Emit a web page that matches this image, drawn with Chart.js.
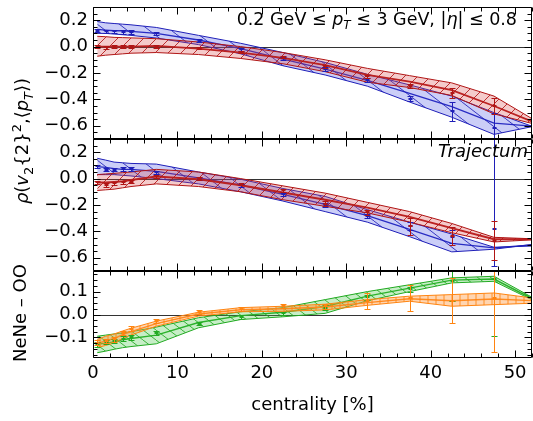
<!DOCTYPE html>
<html>
<head>
  <meta charset="utf-8">
  <title>rho(v2{2}^2, pT) vs centrality</title>
  <script src="https://cdn.jsdelivr.net/npm/chart.js"></script>
  <style>
    html, body { margin: 0; padding: 0; background: #fff; }
    #wrap { position: relative; width: 533px; height: 421px; }
    #wrap canvas { position: absolute; left: 0; top: 0; }
  </style>
</head>
<body>
<div id="wrap">
  <canvas id="cTop" width="533" height="421"></canvas>
  <canvas id="cMid" width="533" height="421"></canvas>
  <canvas id="cLow" width="533" height="421"></canvas>
</div>
<script>
  // ---- data ----
  // band nodes (last node lies just past the axis end and gets clipped)
  const cent = [0.5, 1.5, 2.5, 3.5, 4.5, 7.5, 12.5, 17.5, 22.5, 27.5, 32.5, 37.5, 42.5, 47.5, 52.5];
  // centres of the bins that carry error bars
  const centPts = [0.5, 1.5, 2.5, 3.5, 4.5, 7.5, 12.5, 17.5, 22.5, 27.5, 32.5, 37.5, 42.5, 47.5];

  const xTicks = [0, 10, 20, 30, 40, 50];
  const rhoTicks = [-0.6, -0.4, -0.2, 0, 0.2];
  const diffTicks = [-0.1, 0, 0.1];

  // upper panel
  const topBlueHi  = [0.19, 0.18, 0.175, 0.17, 0.165, 0.145, 0.085, 0.025, -0.045, -0.12, -0.21, -0.29, -0.375, -0.50, -0.615];
  const topBlueLo  = [0.10, 0.10, 0.095, 0.09, 0.085, 0.065, 0.015, -0.055, -0.145, -0.215, -0.30, -0.42, -0.535, -0.665, -0.60];
  const topBlueMid = [0.13, 0.125, 0.12, 0.12, 0.115, 0.10, 0.05, -0.015, -0.095, -0.17, -0.255, -0.355, -0.455, -0.58, -0.605];
  const topRedHi   = [0.078, 0.075, 0.07, 0.068, 0.066, 0.06, 0.035, 0.0, -0.045, -0.10, -0.165, -0.22, -0.275, -0.375, -0.565];
  const topRedLo   = [-0.073, -0.065, -0.06, -0.055, -0.05, -0.045, -0.06, -0.09, -0.13, -0.19, -0.27, -0.31, -0.37, -0.51, -0.59];
  const topRedMid  = [0.0, 0.0, 0.0, 0.0, 0.0, 0.005, -0.015, -0.045, -0.085, -0.14, -0.215, -0.265, -0.33, -0.45, -0.58];

  const topBluePts = [0.12, 0.115, 0.115, 0.11, 0.11, 0.10, 0.045, -0.02, -0.09, -0.17, -0.255, -0.395, -0.49, -0.62];
  const topBlueDn  = [0.012, 0.012, 0.012, 0.012, 0.012, 0.01, 0.01, 0.01, 0.012, 0.012, 0.015, 0.02, 0.073, 0.12];
  const topBlueUp  = [0.012, 0.012, 0.012, 0.012, 0.012, 0.01, 0.01, 0.01, 0.012, 0.012, 0.015, 0.02, 0.073, 0.12];
  const topRedPts  = [0.0, -0.005, 0.0, 0.0, 0.0, 0.0, -0.01, -0.04, -0.08, -0.15, -0.225, -0.30, -0.35, -0.45];
  const topRedDn   = [0.012, 0.012, 0.012, 0.012, 0.012, 0.01, 0.01, 0.01, 0.01, 0.012, 0.012, 0.015, 0.038, 0.06];
  const topRedUp   = [0.012, 0.012, 0.012, 0.012, 0.012, 0.01, 0.01, 0.01, 0.01, 0.012, 0.012, 0.015, 0.038, 0.06];

  // middle panel (Trajectum)
  const midBlueHi  = [0.154, 0.14, 0.125, 0.12, 0.115, 0.11, 0.05, -0.005, -0.075, -0.135, -0.235, -0.33, -0.42, -0.52, -0.51];
  const midBlueLo  = [0.03, 0.03, 0.03, 0.025, 0.02, 0.0, -0.04, -0.10, -0.17, -0.25, -0.33, -0.44, -0.555, -0.535, -0.495];
  const midBlueMid = [0.09, 0.085, 0.075, 0.07, 0.07, 0.055, 0.005, -0.05, -0.12, -0.195, -0.28, -0.385, -0.49, -0.525, -0.50];
  const midRedHi   = [0.03, 0.035, 0.04, 0.045, 0.05, 0.07, 0.05, 0.0, -0.055, -0.11, -0.18, -0.25, -0.34, -0.445, -0.457];
  const midRedLo   = [-0.09, -0.085, -0.08, -0.07, -0.06, -0.04, -0.06, -0.10, -0.16, -0.21, -0.26, -0.33, -0.41, -0.48, -0.462];
  const midRedMid  = [-0.03, -0.03, -0.025, -0.02, -0.01, 0.015, -0.005, -0.05, -0.105, -0.16, -0.22, -0.29, -0.375, -0.46, -0.46];

  const midBluePts = [0.093, 0.066, 0.066, 0.073, 0.073, 0.048, 0.0, -0.05, -0.12, -0.20, -0.28, -0.36, -0.44, -0.38];
  const midBlueDn  = [0.012, 0.012, 0.012, 0.012, 0.012, 0.01, 0.01, 0.01, 0.012, 0.012, 0.015, 0.03, 0.05, 0.28];
  const midBlueUp  = [0.012, 0.012, 0.012, 0.012, 0.012, 0.01, 0.01, 0.01, 0.012, 0.012, 0.015, 0.03, 0.05, 0.75];
  const midRedPts  = [-0.028, -0.048, -0.035, -0.028, -0.023, 0.018, 0.0, -0.04, -0.09, -0.19, -0.255, -0.36, -0.435, -0.47];
  const midRedDn   = [0.012, 0.012, 0.012, 0.012, 0.012, 0.01, 0.01, 0.01, 0.012, 0.018, 0.02, 0.065, 0.067, 0.147];
  const midRedUp   = [0.012, 0.012, 0.012, 0.012, 0.012, 0.01, 0.01, 0.01, 0.012, 0.018, 0.02, 0.065, 0.067, 0.147];

  // lower panel: NeNe - OO
  const lowOrangeHi  = [-0.109, -0.095, -0.085, -0.072, -0.06, -0.029, 0.01, 0.03, 0.036, 0.045, 0.065, 0.08, 0.087, 0.094, 0.07];
  const lowOrangeLo  = [-0.145, -0.135, -0.125, -0.105, -0.09, -0.051, -0.007, 0.012, 0.014, 0.02, 0.04, 0.058, 0.036, 0.043, 0.05];
  const lowOrangeMid = [-0.127, -0.115, -0.105, -0.088, -0.075, -0.04, 0.002, 0.021, 0.025, 0.033, 0.052, 0.069, 0.06, 0.068, 0.06];
  const lowGreenHi   = [-0.095, -0.09, -0.085, -0.08, -0.075, -0.055, -0.014, 0.012, 0.03, 0.065, 0.10, 0.13, 0.16, 0.167, 0.065];
  const lowGreenLo   = [-0.167, -0.16, -0.152, -0.145, -0.14, -0.128, -0.058, -0.022, -0.01, 0.005, 0.06, 0.10, 0.138, 0.145, 0.055];
  const lowGreenMid  = [-0.13, -0.125, -0.12, -0.11, -0.105, -0.09, -0.035, -0.005, 0.01, 0.035, 0.08, 0.115, 0.15, 0.155, 0.06];

  const lowOrangePts = [-0.123, -0.116, -0.109, -0.08, -0.062, -0.029, 0.01, 0.025, 0.036, 0.036, 0.058, 0.072, 0.058, 0.072];
  const lowOrangeDn  = [0.01, 0.01, 0.01, 0.01, 0.01, 0.008, 0.008, 0.008, 0.008, 0.01, 0.036, 0.058, 0.094, 0.237];
  const lowOrangeUp  = [0.01, 0.01, 0.01, 0.01, 0.01, 0.008, 0.008, 0.008, 0.008, 0.01, 0.036, 0.058, 0.102, 0.124];
  const lowGreenPts  = [-0.13, -0.12, -0.115, -0.105, -0.10, -0.08, -0.04, -0.01, 0.005, 0.03, 0.075, 0.11, 0.145, 0.155];
  const lowGreenDn   = [0.01, 0.01, 0.01, 0.01, 0.01, 0.008, 0.008, 0.008, 0.008, 0.01, 0.01, 0.012, 0.087, 0.249];
  const lowGreenUp   = [0.01, 0.01, 0.01, 0.01, 0.01, 0.008, 0.008, 0.008, 0.008, 0.01, 0.01, 0.012, 0.045, 0.2];

  // ---- styles ----
  const FAMILY = '"DejaVu Sans", sans-serif';
  const FS = 18;
  const BLUE = '#1f1fb8', RED = '#b01515', GREEN = '#22aa22', ORANGE = '#ff8410';

  // semi-transparent fill with a sparse line hatch on top
  function hatch(fill, stroke, w, h, mode) {
    const c = document.createElement('canvas');
    c.width = w; c.height = h;
    const g = c.getContext('2d');
    g.fillStyle = fill;
    g.fillRect(0, 0, w, h);
    g.strokeStyle = stroke;
    g.lineWidth = 1;
    g.beginPath();
    if (mode === '/') { g.moveTo(0, h); g.lineTo(w, 0); }
    else if (mode === '|') { g.moveTo(w / 2, 0); g.lineTo(w / 2, h); }
    else { g.moveTo(0, 0); g.lineTo(w, h); }
    g.stroke();
    return g.createPattern(c, 'repeat');
  }

  const blueFill = hatch('rgba(70,80,225,0.28)', 'rgba(31,31,184,0.85)', 22, 17, '\\');
  const redFill = hatch('rgba(215,70,70,0.28)', 'rgba(176,21,21,0.85)', 13, 13, '/');
  const greenFill = hatch('rgba(70,200,70,0.30)', 'rgba(34,170,34,0.85)', 13, 10, '\\');
  const orangeFill = hatch('rgba(255,150,60,0.40)', 'rgba(255,132,16,0.85)', 8, 8, '|');

  function series(arr) {
    return cent.map((x, i) => ({ x: x, y: arr[i] }));
  }

  // lower edge, upper edge filled down to it, central line
  function band(hi, lo, mid, color, fill, midWidth) {
    const base = { pointRadius: 0, tension: 0, borderColor: color };
    return [
      Object.assign({ data: series(lo), borderWidth: 1, fill: false }, base),
      Object.assign({ data: series(hi), borderWidth: 1, fill: '-1', backgroundColor: fill }, base),
      Object.assign({ data: series(mid), borderWidth: midWidth, fill: false }, base)
    ];
  }

  function fmt(v) {
    if (Math.abs(v) < 1e-9) return '0.0';
    return (v < 0 ? '\u2212' : '') + Math.abs(v).toFixed(1);
  }

  // text made of runs: '' plain, 'i' italic, 'sub'/'sup' small, 'isub' italic small
  function runFont(style, fs) {
    const small = style.indexOf('sub') >= 0 || style.indexOf('sup') >= 0;
    const size = small ? Math.round(fs * 0.7) : fs;
    return (style.charAt(0) === 'i' ? 'italic ' : '') + size + 'px ' + FAMILY;
  }
  function drawRich(ctx, parts, x, y, align, fs) {
    fs = fs || FS;
    ctx.save();
    ctx.textBaseline = 'alphabetic';
    ctx.textAlign = 'left';
    ctx.fillStyle = '#000';
    const widths = parts.map(p => { ctx.font = runFont(p[1], fs); return ctx.measureText(p[0]).width; });
    const total = widths.reduce((a, b) => a + b, 0);
    let cx = align === 'right' ? x - total : (align === 'center' ? x - total / 2 : x);
    parts.forEach((p, i) => {
      ctx.font = runFont(p[1], fs);
      let dy = 0;
      if (p[1].indexOf('sub') >= 0) dy = fs * 0.25;
      if (p[1].indexOf('sup') >= 0) dy = -fs * 0.4;
      ctx.fillText(p[0], cx, y + dy);
      cx += widths[i];
    });
    ctx.restore();
  }

  // frame with inward ticks on all four sides and the zero line
  function framePlugin(yTicks, minor) {
    return {
      id: 'frame',
      beforeDatasetsDraw(chart) {
        const { ctx, chartArea: a, scales: { y } } = chart;
        const y0 = Math.round(y.getPixelForValue(0)) + 0.5;
        ctx.save();
        ctx.strokeStyle = '#333';
        ctx.lineWidth = 1.2;
        ctx.beginPath();
        ctx.moveTo(a.left, y0);
        ctx.lineTo(a.right, y0);
        ctx.stroke();
        ctx.restore();
      },
      afterDraw(chart) {
        const { ctx, chartArea: a, scales: { x, y } } = chart;
        const L = Math.round(a.left) + 0.5, R = Math.round(a.right) - 0.5;
        const T = Math.round(a.top) + 0.5, B = Math.round(a.bottom) - 0.5;
        ctx.save();
        ctx.strokeStyle = '#000';
        ctx.lineWidth = 1;
        ctx.beginPath();
        ctx.rect(L, T, R - L, B - T);
        for (let v = 0; v <= x.max + 1e-9; v += 2) {
          const px = Math.round(x.getPixelForValue(v)) + 0.5;
          const len = xTicks.indexOf(v) >= 0 ? 7 : 4;
          ctx.moveTo(px, B); ctx.lineTo(px, B - len);
          ctx.moveTo(px, T); ctx.lineTo(px, T + len);
        }
        const n0 = Math.ceil(y.min / minor - 1e-9), n1 = Math.floor(y.max / minor + 1e-9);
        for (let k = n0; k <= n1; k++) {
          const v = k * minor;
          const py = Math.round(y.getPixelForValue(v)) + 0.5;
          const major = yTicks.some(t => Math.abs(t - v) < 1e-6);
          const len = major ? 7 : 4;
          ctx.moveTo(L, py); ctx.lineTo(L + len, py);
          ctx.moveTo(R, py); ctx.lineTo(R - len, py);
        }
        ctx.stroke();
        ctx.restore();
      }
    };
  }

  // points with vertical error bars, clipped to the panel
  function errorPlugin(list) {
    return {
      id: 'errorBars',
      afterDatasetsDraw(chart) {
        const { ctx, chartArea: a, scales: { x, y } } = chart;
        ctx.save();
        ctx.beginPath();
        ctx.rect(a.left, a.top, a.width, a.height);
        ctx.clip();
        ctx.lineWidth = 1;
        list.forEach(s => {
          ctx.strokeStyle = s.color;
          ctx.fillStyle = s.color;
          centPts.forEach((c, i) => {
            const px = Math.round(x.getPixelForValue(c)) + 0.5;
            const py = Math.round(y.getPixelForValue(s.val[i]));
            const y1 = Math.round(y.getPixelForValue(s.val[i] - s.dn[i])) + 0.5;
            const y2 = Math.round(y.getPixelForValue(s.val[i] + s.up[i])) + 0.5;
            ctx.beginPath();
            ctx.moveTo(px, y1); ctx.lineTo(px, y2);
            ctx.moveTo(px - 3, y1); ctx.lineTo(px + 3, y1);
            ctx.moveTo(px - 3, y2); ctx.lineTo(px + 3, y2);
            ctx.stroke();
            ctx.fillRect(px - 2, py - 1, 4, 2);
          });
        });
        ctx.restore();
      }
    };
  }

  function textPlugin(draw) {
    return { id: 'notes', afterDraw(chart) { draw(chart.ctx); } };
  }

  // one panel = one chart on a full-size transparent canvas
  function panel(id, top, bottom, yMin, yMax, yTicks, minor, datasets, errs, notes, showX) {
    const font = { family: FAMILY, size: FS };
    return new Chart(document.getElementById(id), {
      type: 'line',
      data: { datasets: datasets },
      options: {
        responsive: false,
        animation: false,
        events: [],
        layout: { padding: { left: 0, right: 1, top: top, bottom: showX ? 0 : 421 - bottom } },
        scales: {
          x: {
            type: 'linear', min: 0, max: 52, display: showX,
            afterBuildTicks: s => { s.ticks = xTicks.map(v => ({ value: v })); },
            grid: { display: false, drawTicks: false },
            border: { display: false },
            ticks: { font: font, color: '#000', padding: 5, maxRotation: 0, autoSkip: false },
            title: { display: true, text: 'centrality [%]', font: font, color: '#000', padding: { top: 0, bottom: 5 } },
            afterFit: s => { if (showX) s.height = 421 - bottom; }
          },
          y: {
            type: 'linear', min: yMin, max: yMax,
            afterBuildTicks: s => { s.ticks = yTicks.map(v => ({ value: v })); },
            grid: { display: false, drawTicks: false },
            border: { display: false },
            ticks: { font: font, color: '#000', padding: 5, callback: fmt },
            afterFit: s => { s.width = 93; s.paddingTop = 0; s.paddingBottom = 0; }
          }
        },
        plugins: { legend: { display: false }, tooltip: { enabled: false } }
      },
      plugins: [framePlugin(yTicks, minor), errorPlugin(errs), textPlugin(notes)]
    });
  }

  // ---- panels ----
  panel('cTop', 7, 139, -0.7, 0.3, rhoTicks, 0.05,
    [].concat(
      band(topRedHi, topRedLo, topRedMid, RED, redFill, 1.8),
      band(topBlueHi, topBlueLo, topBlueMid, BLUE, blueFill, 1.3)
    ),
    [
      { color: BLUE, val: topBluePts, dn: topBlueDn, up: topBlueUp },
      { color: RED, val: topRedPts, dn: topRedDn, up: topRedUp }
    ],
    ctx => drawRich(ctx, [['0.2 GeV \u2264 ', ''], ['p', 'i'], ['T', 'isub'], [' \u2264 3 GeV, |', ''], ['\u03b7', 'i'], ['| \u2264 0.8', '']], 517, 25, 'right', 17.5),
    false);

  panel('cMid', 139, 271, -0.7, 0.3, rhoTicks, 0.05,
    [].concat(
      band(midRedHi, midRedLo, midRedMid, RED, redFill, 2),
      band(midBlueHi, midBlueLo, midBlueMid, BLUE, blueFill, 1.3)
    ),
    [
      { color: BLUE, val: midBluePts, dn: midBlueDn, up: midBlueUp },
      { color: RED, val: midRedPts, dn: midRedDn, up: midRedUp }
    ],
    ctx => {
      drawRich(ctx, [['Trajectum', 'i']], 528, 157, 'right');
      ctx.save();
      ctx.translate(28, 141);
      ctx.rotate(-Math.PI / 2);
      drawRich(ctx, [['\u03c1', 'i'], ['(', ''], ['v', 'i'], ['2', 'sub'], ['{2}', ''], ['2', 'sup'], [',\u27e8', ''], ['p', 'i'], ['T', 'isub'], ['\u27e9)', '']], 0, 0, 'center');
      ctx.restore();
    },
    false);

  panel('cLow', 271, 358, -0.19, 0.19, diffTicks, 0.025,
    [].concat(
      band(lowOrangeHi, lowOrangeLo, lowOrangeMid, ORANGE, orangeFill, 1.4),
      band(lowGreenHi, lowGreenLo, lowGreenMid, GREEN, greenFill, 1.4)
    ),
    [
      { color: GREEN, val: lowGreenPts, dn: lowGreenDn, up: lowGreenUp },
      { color: ORANGE, val: lowOrangePts, dn: lowOrangeDn, up: lowOrangeUp }
    ],
    ctx => {
      ctx.save();
      ctx.translate(26, 313);
      ctx.rotate(-Math.PI / 2);
      drawRich(ctx, [['NeNe \u2013 OO', '']], 0, 0, 'center');
      ctx.restore();
    },
    true);
</script>
</body>
</html>
